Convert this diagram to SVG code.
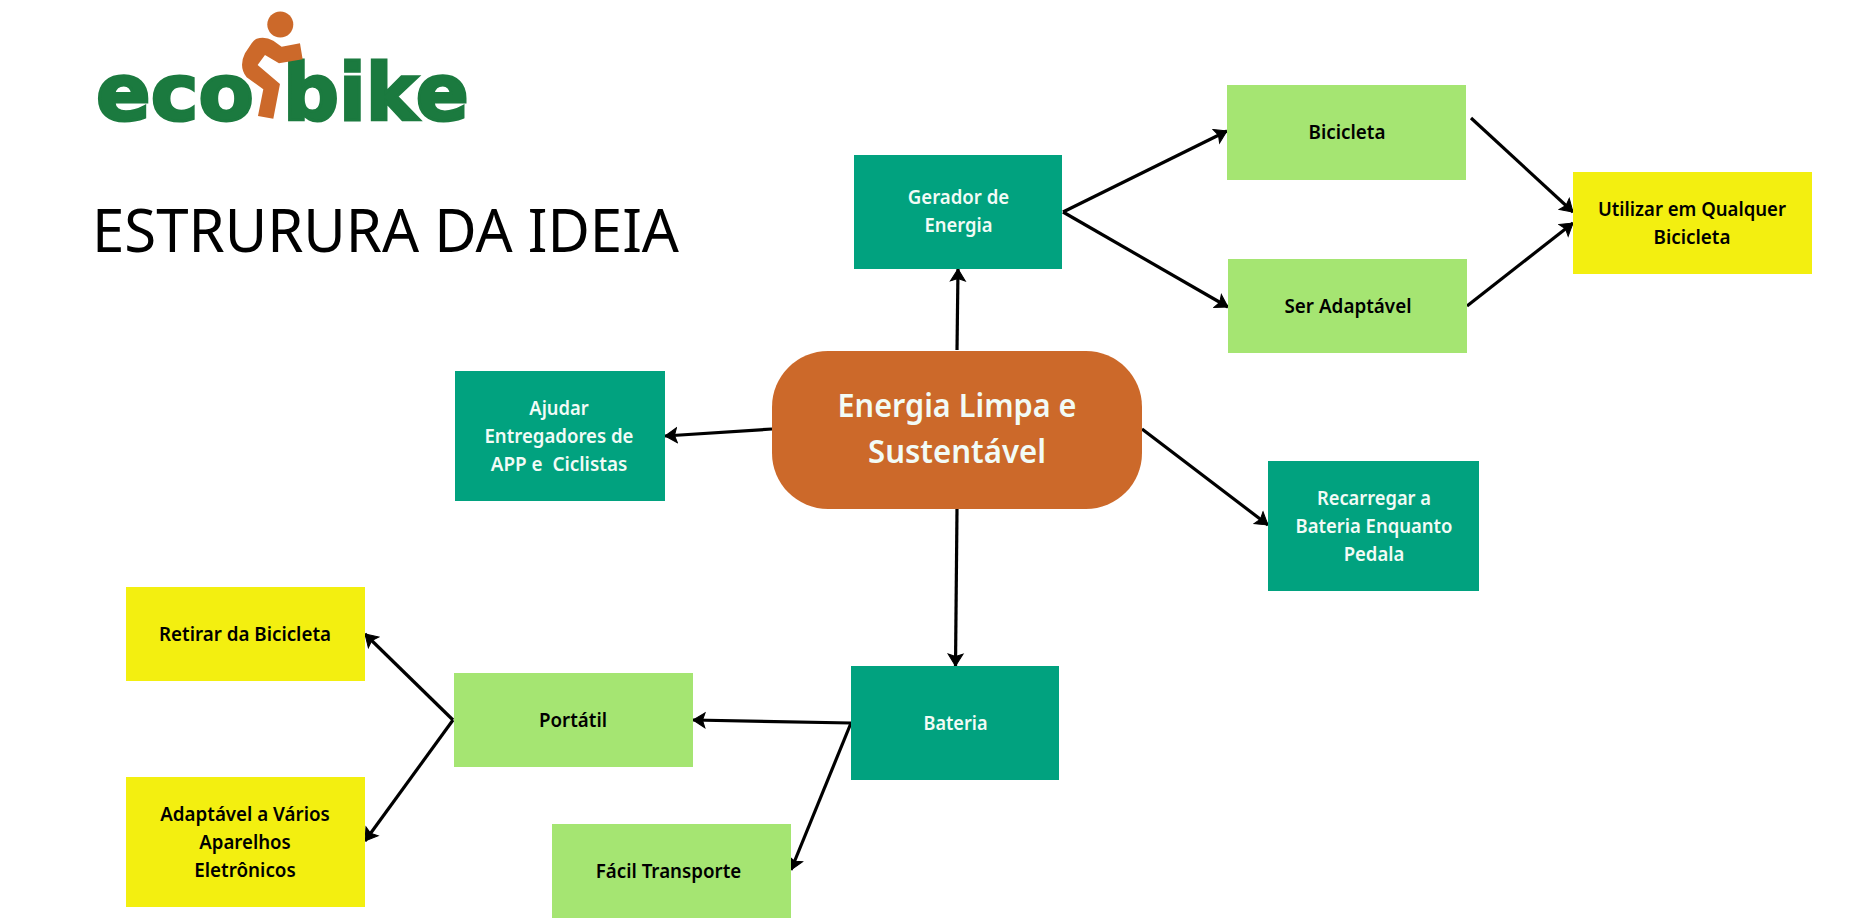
<svg xmlns="http://www.w3.org/2000/svg" width="1866" height="922" viewBox="0 0 1866 922">
<style>
.t{font-family:"Noto Sans","Open Sans","Liberation Sans",sans-serif;font-size:20px;font-weight:500;text-anchor:middle;white-space:pre}
.w{fill:#f2fbf6;font-weight:600}.k{fill:#000;font-weight:600}
.teal{fill:#01a27f}.lime{fill:#a5e572}.yel{fill:#f3ef10}
.c{fill:none;stroke:#000;stroke-width:3.200;marker-end:url(#a)}
.lg{font-family:"DejaVu Sans",sans-serif;font-weight:700;font-size:79px;fill:#1b7a3f;stroke:#1b7a3f;stroke-width:3}
</style>
<defs><marker id="a" markerUnits="userSpaceOnUse" markerWidth="16" markerHeight="18" refX="13" refY="9" orient="auto"><path d="M1 1.500L13 9L1 16.500L3.500 9Z" fill="#000" stroke="#000" stroke-width="1"/></marker></defs>
<rect width="1866" height="922" fill="#fff"/>
<g id="logo">
<text class="lg" transform="translate(96 120) scale(1.02 1)">eco</text>
<text class="lg" transform="translate(283 120) scale(.99 1)">bike</text>
<path transform="translate(60 0) scale(.3333)" fill="#cc692a" d="M590 116Q615 108 640 122L665 140L720 130L728 178L657 190L615 165L593 195L660 252L640 356L594 348L610 268L560 232Q535 200 555 160L575 130Q582 120 590 116Z"/>
<circle cx="280.300" cy="24.500" r="13" fill="#cc692a"/>
</g>
<text id="title" x="92" y="252" textLength="587" lengthAdjust="spacingAndGlyphs" style="font-family:'Noto Sans',sans-serif;font-size:61px;font-weight:400">ESTRURURA DA IDEIA</text>
<g id="connectors">
<path class="c" d="M957 350L958 269"/>
<path class="c" d="M1063 212L1227 131"/>
<path class="c" d="M1063 212L1228 307"/>
<path class="c" d="M1471 118L1573 212"/>
<path class="c" d="M1467 306L1573 223"/>
<path class="c" d="M772 429L665 436"/>
<path class="c" d="M1142 429L1268 525"/>
<path class="c" d="M957 509L955.500 666"/>
<path class="c" d="M851 723L693 720"/>
<path class="c" d="M851 723L791 870"/>
<path class="c" d="M453 720L365 634"/>
<path class="c" d="M453 720L365 841"/>
</g>
<g id="center"><rect x="772" y="351" width="370" height="158" rx="56" fill="#cc692a"/>
<text class="t w" x="957" y="417" style="font-size:33px" textLength="239" lengthAdjust="spacingAndGlyphs">Energia Limpa e</text>
<text class="t w" x="957" y="463" style="font-size:33px" textLength="178" lengthAdjust="spacingAndGlyphs">Sustentável</text></g>
<g id="gerador"><rect class="teal" x="854" y="155" width="208" height="114"/>
<text class="t w" x="958.500" y="204" textLength="101.500" lengthAdjust="spacingAndGlyphs">Gerador de</text>
<text class="t w" x="958.500" y="232" textLength="68" lengthAdjust="spacingAndGlyphs">Energia</text></g>
<g id="bicicleta"><rect class="lime" x="1227" y="85" width="239" height="95"/>
<text class="t k" x="1347" y="139" textLength="77" lengthAdjust="spacingAndGlyphs">Bicicleta</text></g>
<g id="adaptavel"><rect class="lime" x="1228" y="259" width="239" height="94"/>
<text class="t k" x="1348" y="313" textLength="127" lengthAdjust="spacingAndGlyphs">Ser Adaptável</text></g>
<g id="utilizar"><rect class="yel" x="1573" y="172" width="239" height="102"/>
<text class="t k" x="1692" y="216" textLength="188" lengthAdjust="spacingAndGlyphs">Utilizar em Qualquer</text>
<text class="t k" x="1692" y="244" textLength="77" lengthAdjust="spacingAndGlyphs">Bicicleta</text></g>
<g id="ajudar"><rect class="teal" x="455" y="371" width="210" height="130"/>
<text class="t w" x="559" y="415" textLength="59.300" lengthAdjust="spacingAndGlyphs">Ajudar</text>
<text class="t w" x="559" y="443" textLength="149" lengthAdjust="spacingAndGlyphs">Entregadores de</text>
<text class="t w" x="559" y="471" textLength="136.500" lengthAdjust="spacingAndGlyphs">APP e  Ciclistas</text></g>
<g id="recarregar"><rect class="teal" x="1268" y="461" width="211" height="130"/>
<text class="t w" x="1374" y="505" textLength="114" lengthAdjust="spacingAndGlyphs">Recarregar a</text>
<text class="t w" x="1374" y="533" textLength="157" lengthAdjust="spacingAndGlyphs">Bateria Enquanto</text>
<text class="t w" x="1374" y="561" textLength="60.600" lengthAdjust="spacingAndGlyphs">Pedala</text></g>
<g id="bateria"><rect class="teal" x="851" y="666" width="208" height="114"/>
<text class="t w" x="955.500" y="730" textLength="64" lengthAdjust="spacingAndGlyphs">Bateria</text></g>
<g id="portatil"><rect class="lime" x="454" y="673" width="239" height="94"/>
<text class="t k" x="573" y="727" textLength="68" lengthAdjust="spacingAndGlyphs">Portátil</text></g>
<g id="facil"><rect class="lime" x="552" y="824" width="239" height="94"/>
<text class="t k" x="668.500" y="878" textLength="145.500" lengthAdjust="spacingAndGlyphs">Fácil Transporte</text></g>
<g id="retirar"><rect class="yel" x="126" y="587" width="239" height="94"/>
<text class="t k" x="245" y="641" textLength="172" lengthAdjust="spacingAndGlyphs">Retirar da Bicicleta</text></g>
<g id="adaptavel2"><rect class="yel" x="126" y="777" width="239" height="130"/>
<text class="t k" x="245" y="821" textLength="169.500" lengthAdjust="spacingAndGlyphs">Adaptável a Vários</text>
<text class="t k" x="245" y="849" textLength="91.500" lengthAdjust="spacingAndGlyphs">Aparelhos</text>
<text class="t k" x="245" y="877" textLength="101.500" lengthAdjust="spacingAndGlyphs">Eletrônicos</text></g>
</svg>
